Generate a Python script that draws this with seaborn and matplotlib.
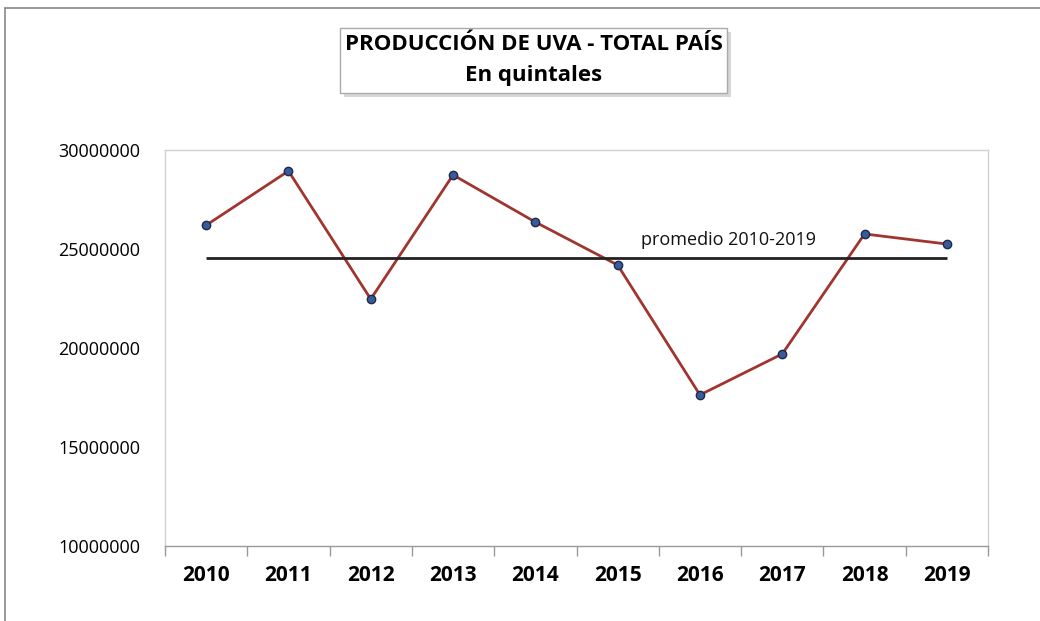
import numpy as np
import pandas as pd
import seaborn as sns
import matplotlib.pyplot as plt
from matplotlib.patches import Rectangle
from matplotlib.lines import Line2D
from matplotlib.ticker import FixedLocator

years = ['2010', '2011', '2012', '2013', '2014', '2015', '2016', '2017', '2018', '2019']
produccion = [26200000, 28940000, 22470000, 28740000, 26360000, 24190000,
              17630000, 19700000, 25760000, 25250000]
promedio = np.mean(produccion)

df = pd.DataFrame({'idx': range(len(years)), 'anio': years, 'qq': produccion})

sns.set_style('white')
plt.rcParams['font.family'] = ['Open Sans', 'DejaVu Sans']
plt.rcParams['text.color'] = 'black'
plt.rcParams['xtick.color'] = 'black'
plt.rcParams['ytick.color'] = 'black'

fig = plt.figure(figsize=(10.4, 6.21), dpi=100)
ax = fig.add_axes([165/1040, 1 - 546/621, (988 - 165)/1040, (546 - 150)/621])

sns.lineplot(data=df, x='idx', y='qq', ax=ax, color='#A0352F', linewidth=2,
             marker='o', markersize=6, markerfacecolor='#3A5A9A',
             markeredgecolor='#1E2A4A', markeredgewidth=1)
ax.hlines(promedio, 0, len(years) - 1, color='#222222', linewidth=2)
ax.text(6.35, promedio + 500000, 'promedio 2010-2019', ha='center', va='bottom',
        fontsize=13, color='#111111')

ax.set_xlim(-0.5, len(years) - 0.5)
ax.set_ylim(10000000, 30000000)
ax.set_yticks(range(10000000, 30000001, 5000000))
ax.set_yticklabels([str(v) for v in range(10000000, 30000001, 5000000)], fontsize=13)
ax.set_xticks(range(len(years)))
ax.set_xticklabels(years, fontsize=15, fontweight='bold')
ax.xaxis.set_minor_locator(FixedLocator(np.arange(-0.5, len(years), 1)))
ax.tick_params(axis='x', which='major', bottom=True, length=0, pad=14)
ax.tick_params(axis='x', which='minor', bottom=True, length=7, color='#999999',
               width=1, direction='out')
ax.tick_params(axis='y', length=0, pad=18)
ax.set_xlabel('')
ax.set_ylabel('')
for s in ['left', 'top', 'right']:
    ax.spines[s].set_color('#D0D0D0')
    ax.spines[s].set_linewidth(1)
ax.spines['bottom'].set_color('#999999')
ax.spines['bottom'].set_linewidth(1)

# marco exterior
fig.add_artist(Line2D([5/1040, 5/1040], [0, 1 - 8/621], color='#888888', lw=1.2))
fig.add_artist(Line2D([5/1040, 1], [1 - 8/621, 1 - 8/621], color='#888888', lw=1.2))

# caja del titulo con sombra
bx, by, bw, bh = 340/1040, 1 - 93/621, 387/1040, 65/621
fig.add_artist(Rectangle((bx + 4/1040, by - 4/621), bw, bh, transform=fig.transFigure,
                         facecolor='#BBBBBB', edgecolor='none', alpha=0.6))
fig.add_artist(Rectangle((bx, by), bw, bh, transform=fig.transFigure,
                         facecolor='white', edgecolor='#AAAAAA', lw=1))
fig.text(534/1040, 1 - 45/621, 'PRODUCCIÓN DE UVA - TOTAL PAÍS', ha='center', va='center',
         fontsize=16, fontweight='bold')
fig.text(534/1040, 1 - 75/621, 'En quintales', ha='center', va='center',
         fontsize=16, fontweight='bold')

fig.savefig('out.png', dpi=100)
